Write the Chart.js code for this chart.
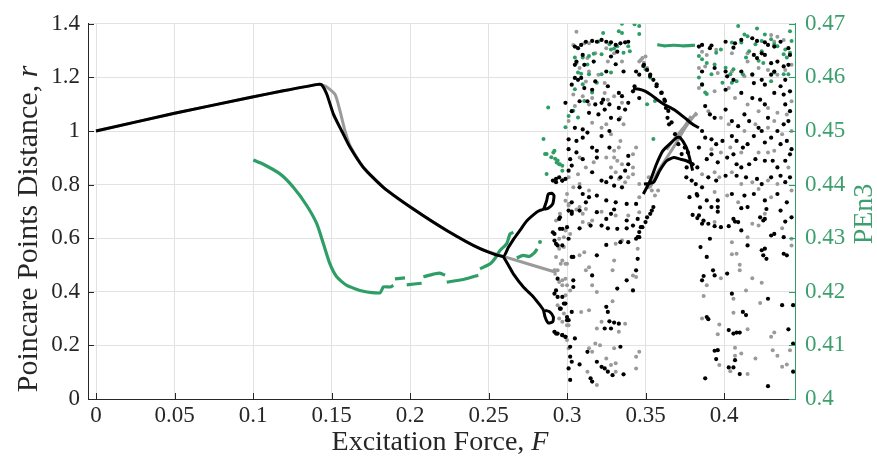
<!DOCTYPE html>
<html>
<head>
<meta charset="utf-8">
<script src="https://cdn.jsdelivr.net/npm/chart.js@4.4.1/dist/chart.umd.min.js"></script>
<style>
html, body { margin: 0; padding: 0; background: #fff; }
#wrap { width: 877px; height: 459px; }
</style>
</head>
<body>
<div id="wrap"><canvas id="poincare"></canvas></div>
<script>
// tick positions
var xTicks = [0, 0.05, 0.1, 0.15, 0.2, 0.25, 0.3, 0.35, 0.4];
var rTicks = [0, 0.2, 0.4, 0.6, 0.8, 1, 1.2, 1.4];
var penTicks = [0.4, 0.41, 0.42, 0.43, 0.44, 0.45, 0.46, 0.47];

// r of the period-1 / period-2 branch (black) -- null breaks the line
var blackLine = [[0,1.0],[0.05,1.066],[0.098,1.125],[0.1193,1.15],[0.1416,1.174],[0.1438,1.172],[0.147,1.137],[0.1512,1.063],[0.1565,1.0],[0.1618,0.939],[0.1703,0.864],[0.183,0.79],[0.2021,0.709],[0.2234,0.629],[0.2446,0.561],[0.2594,0.532],
  [0.2626,0.565],[0.2658,0.595],[0.27,0.629],[0.2743,0.664],[0.2807,0.697],[0.2828,0.704],[0.285,0.708],[0.287,0.740],[0.288,0.764],[0.2903,0.768],[0.2917,0.759],[0.2909,0.728],[0.288,0.712],[0.2855,0.708],
  null,
  [0.2594,0.532],[0.2626,0.500],[0.2658,0.467],[0.2722,0.418],[0.2786,0.381],[0.2828,0.350],[0.285,0.331],[0.286,0.306],[0.288,0.284],[0.2909,0.288],[0.2913,0.306],[0.289,0.325],[0.286,0.331],
  null,
  [0.342,1.158],[0.346,1.156],[0.350,1.148],[0.354,1.133],[0.358,1.115],[0.362,1.099],[0.368,1.080],[0.375,1.049],[0.380,1.025],[0.384,1.012],
  null,
  [0.3486,0.765],[0.353,0.815],[0.357,0.877],[0.361,0.926],[0.366,0.955],[0.370,0.976],[0.372,0.976],[0.376,0.939],[0.378,0.901],[0.380,0.852],
  null,
  [0.349,0.802],[0.355,0.808],[0.359,0.852],[0.3635,0.889],[0.368,0.901],[0.372,0.895],[0.376,0.889],[0.380,0.877]];

var grayLine = [[0,1.0],[0.05,1.066],[0.098,1.125],[0.1193,1.15],[0.1416,1.174],[0.146,1.168],[0.1522,1.137],[0.1554,1.075],[0.1586,1.0],[0.1618,0.945],[0.1703,0.864],[0.183,0.79],[0.2021,0.709],[0.2234,0.629],[0.2446,0.561],[0.2594,0.532],[0.2924,0.474],
  null, [0.2924,0.461],[0.2924,0.486],
  null, [0.353,0.79],[0.358,0.85],[0.3635,0.90],[0.369,0.95],[0.374,1.0],[0.378,1.035],[0.3826,1.069],
  null, [0.3635,0.93],[0.367,0.96],[0.371,0.99],[0.375,1.018],[0.379,1.056]];

// scattered Poincare points (black)
var blackDots = [
  [0.305,1.315],[0.307,1.309],[0.309,1.321],[0.312,1.333],[0.316,1.336],[0.319,1.333],[0.322,1.340],[0.325,1.333],[0.328,1.331],[0.331,1.321],[0.334,1.327],[0.337,1.331],[0.339,1.333],[0.332,1.296],[0.328,1.278],[0.310,1.284],
  [0.306,1.259],[0.305,1.247],[0.311,1.247],[0.317,1.259],[0.331,1.249],[0.325,1.222],[0.336,1.222],[0.344,1.222],[0.346,1.210],[0.342,1.148],[0.343,1.167],[0.305,1.198],[0.307,1.191],[0.309,1.198],[0.318,1.185],[0.303,1.173],
  [0.311,1.160],[0.316,1.154],[0.326,1.167],[0.333,1.142],[0.335,1.130],[0.339,1.105],[0.346,1.123],[0.299,1.105],[0.308,1.111],[0.313,1.111],[0.318,1.099],[0.322,1.105],[0.323,1.117],[0.327,1.099],[0.333,1.086],[0.337,1.080],
  [0.303,1.074],[0.314,1.068],[0.320,1.062],[0.324,1.080],[0.328,1.049],[0.333,1.043],[0.305,1.012],[0.310,1.006],[0.313,0.994],[0.322,0.981],[0.327,1.000],[0.301,0.969],[0.306,0.963],[0.310,0.975],[0.316,0.938],[0.319,0.926],
  [0.319,0.901],[0.327,0.938],[0.301,0.932],[0.306,0.920],[0.310,0.895],[0.339,0.907],[0.339,0.876],[0.337,0.852],[0.334,0.827],[0.328,0.827],[0.325,0.809],[0.330,0.796],[0.335,0.790],[0.301,0.852],[0.316,0.846],[0.322,0.815],
  [0.293,0.821],[0.295,0.827],[0.297,0.815],[0.308,0.790],[0.310,0.765],[0.314,0.753],[0.319,0.759],[0.303,0.734],[0.312,0.734],[0.325,0.741],[0.331,0.734],[0.338,0.728],[0.344,0.728],
  [0.384,1.315],[0.386,1.321],[0.391,1.309],[0.392,1.319],[0.401,1.333],[0.407,1.327],[0.406,1.311],[0.411,1.340],[0.418,1.346],[0.421,1.336],[0.426,1.331],[0.428,1.321],[0.432,1.315],[0.436,1.333],[0.441,1.309],[0.442,1.284],
  [0.419,1.284],[0.421,1.272],[0.424,1.290],[0.426,1.284],[0.430,1.253],[0.434,1.259],[0.438,1.241],[0.441,1.247],[0.386,1.222],[0.394,1.235],[0.401,1.222],[0.402,1.204],[0.406,1.191],[0.411,1.222],[0.418,1.210],[0.419,1.179],
  [0.424,1.191],[0.426,1.173],[0.430,1.210],[0.432,1.222],[0.436,1.167],[0.439,1.191],[0.442,1.148],[0.442,1.074],[0.386,1.173],[0.401,1.154],[0.411,1.142],[0.418,1.123],[0.423,1.117],[0.426,1.099],[0.432,1.142],[0.438,1.136],
  [0.439,1.099],[0.388,1.093],[0.391,1.062],[0.394,1.049],[0.401,1.080],[0.405,1.037],[0.409,1.018],[0.413,1.062],[0.416,1.037],[0.422,1.012],[0.428,1.049],[0.434,1.000],[0.438,1.025],[0.441,1.037],[0.386,1.000],[0.388,0.975],
  [0.392,0.969],[0.395,0.951],[0.399,0.963],[0.405,0.981],[0.408,0.963],[0.412,0.938],[0.415,0.951],[0.419,0.981],[0.424,1.000],[0.426,0.957],[0.430,0.975],[0.436,0.951],[0.440,0.963],[0.443,0.932],[0.375,0.938],[0.377,0.920],
  [0.384,0.938],[0.380,0.876],[0.383,0.864],[0.389,0.895],[0.392,0.913],[0.396,0.883],[0.402,0.901],[0.406,0.913],[0.408,0.876],[0.411,0.864],[0.416,0.876],[0.420,0.895],[0.426,0.889],[0.431,0.889],[0.434,0.864],[0.439,0.889],
  [0.442,0.913],[0.376,0.827],[0.382,0.802],[0.386,0.790],[0.390,0.827],[0.395,0.815],[0.401,0.833],[0.408,0.833],[0.414,0.827],[0.421,0.821],[0.424,0.802],[0.430,0.827],[0.436,0.833],[0.439,0.809],[0.442,0.827],[0.378,0.753],
  [0.383,0.759],[0.389,0.741],[0.396,0.741],[0.405,0.765],[0.413,0.759],[0.419,0.765],[0.426,0.741],[0.434,0.765],[0.440,0.734],
  [0.303,0.699],[0.308,0.703],[0.319,0.697],[0.325,0.672],[0.328,0.691],[0.330,0.707],[0.338,0.666],[0.345,0.672],[0.295,0.672],[0.297,0.635],[0.292,0.616],[0.301,0.598],[0.308,0.637],[0.315,0.647],[0.322,0.647],[0.326,0.637],
  [0.332,0.635],[0.338,0.637],[0.342,0.647],[0.347,0.641],[0.344,0.598],[0.346,0.604],[0.339,0.585],[0.334,0.585],[0.325,0.575],[0.319,0.536],[0.304,0.530],[0.294,0.573],[0.293,0.579],[0.316,0.461],[0.304,0.443],[0.304,0.418],
  [0.344,0.480],[0.338,0.443],[0.332,0.412],[0.342,0.405],[0.345,0.523],[0.292,0.393],[0.294,0.381],[0.298,0.356],[0.296,0.337],[0.303,0.325],[0.300,0.294],[0.325,0.344],[0.326,0.325],[0.327,0.290],[0.330,0.285],[0.333,0.281],
  [0.324,0.263],[0.328,0.263],[0.334,0.195],[0.292,0.251],[0.294,0.244],[0.297,0.238],[0.299,0.232],[0.305,0.226],[0.302,0.158],[0.303,0.139],[0.301,0.114],[0.302,0.071],[0.313,0.176],[0.319,0.139],[0.322,0.120],[0.324,0.114],
  [0.326,0.102],[0.329,0.089],[0.336,0.092],[0.315,0.077],[0.316,0.065],[0.308,0.129],
  [0.355,0.716],[0.354,0.703],[0.353,0.691],[0.351,0.678],[0.350,0.660],[0.348,0.641],[0.346,0.623],[0.345,0.604],
  [0.380,0.687],[0.383,0.675],[0.384,0.685],[0.386,0.654],[0.390,0.654],[0.394,0.645],[0.398,0.641],[0.403,0.645],[0.406,0.672],[0.407,0.662],[0.409,0.660],[0.411,0.629],[0.396,0.716],[0.396,0.699],[0.392,0.716],[0.411,0.712],
  [0.415,0.716],[0.423,0.678],[0.425,0.666],[0.427,0.709],[0.426,0.672],[0.436,0.703],[0.439,0.662],[0.443,0.678],[0.430,0.610],[0.432,0.616],[0.438,0.604],[0.391,0.598],[0.385,0.567],[0.389,0.530],[0.415,0.573],[0.424,0.555],
  [0.426,0.561],[0.425,0.536],[0.427,0.523],[0.438,0.542],[0.440,0.536],[0.393,0.480],[0.394,0.461],[0.386,0.443],[0.387,0.459],[0.402,0.468],[0.405,0.393],[0.428,0.374],[0.437,0.350],[0.444,0.350],[0.389,0.306],[0.390,0.298],
  [0.412,0.325],[0.414,0.313],[0.403,0.257],[0.406,0.244],[0.408,0.248],[0.410,0.248],[0.441,0.260],[0.394,0.180],[0.396,0.182],[0.395,0.149],[0.407,0.145],[0.403,0.118],[0.406,0.118],[0.410,0.093],[0.388,0.077],[0.428,0.048],
  [0.444,0.102],[0.444,0.207],
  [0.291,0.815],[0.293,0.809],[0.297,0.815],[0.299,0.821],[0.302,0.895],[0.303,0.871],[0.301,0.703],[0.303,0.691],[0.2955,0.678],[0.291,0.622],[0.2955,0.635],[0.300,0.641],[0.292,0.591],[0.297,0.573],[0.303,0.530],[0.294,0.449],
  [0.293,0.405],[0.297,0.381],[0.299,0.356],[0.2955,0.337],[0.300,0.306],[0.301,0.294],[0.293,0.244],[0.297,0.238],[0.299,0.232],[0.302,0.195],
  [0.349,1.247],[0.351,1.228],[0.353,1.210],[0.355,1.191],[0.357,1.167],[0.360,1.142],[0.362,1.117],[0.363,1.086],[0.364,1.049],[0.365,1.025],[0.3666,1.032],[0.3688,0.988],[0.3709,0.951],[0.3730,0.914],[0.3762,0.864],[0.3794,0.815],
  [0.3826,0.765],[0.3847,0.715],[0.3869,0.666],[0.3486,1.243],[0.3529,1.205],[0.3571,1.174],[0.3603,1.143],[0.3624,1.112],[0.3645,1.075]];

// scattered Poincare points (gray)
var grayDots = [
  [0.304,1.321],[0.311,1.327],[0.314,1.327],[0.325,1.309],[0.330,1.290],[0.318,1.290],[0.313,1.272],[0.326,1.259],[0.335,1.259],[0.308,1.235],[0.314,1.222],[0.320,1.210],[0.324,1.179],[0.312,1.185],[0.304,1.136],[0.310,1.130],
  [0.316,1.123],[0.326,1.117],[0.330,1.130],[0.324,1.142],[0.335,1.105],[0.334,1.049],[0.336,1.025],[0.301,1.037],[0.316,1.031],[0.325,1.025],[0.322,1.012],[0.328,0.988],[0.333,0.938],[0.330,0.926],[0.325,0.901],[0.330,0.901],
  [0.332,0.889],[0.328,0.864],[0.335,0.876],[0.342,0.913],[0.344,0.938],[0.342,0.864],[0.308,0.901],[0.312,0.864],[0.317,0.883],[0.307,0.839],[0.301,0.827],[0.339,0.827],[0.342,0.839],[0.346,0.802],[0.331,0.846],[0.333,0.821],
  [0.337,0.809],[0.314,0.778],[0.308,0.802],[0.304,0.790],[0.300,0.765],[0.301,0.728],[0.308,0.716],[0.346,0.753],[0.352,0.827],[0.350,1.278],[0.348,1.272],[0.346,1.259],[0.352,0.790],[0.354,0.778],[0.356,0.759],[0.358,0.778],
  [0.334,0.963],[0.306,1.370],[0.305,1.093],[0.314,1.099],[0.347,1.265],[0.349,1.255],[0.351,1.235],
  [0.386,1.296],[0.389,1.284],[0.395,1.303],[0.405,1.290],[0.415,1.290],[0.430,1.358],[0.434,1.352],[0.438,1.340],[0.432,1.333],[0.384,1.235],[0.388,1.241],[0.396,1.216],[0.405,1.222],[0.413,1.204],[0.415,1.259],[0.422,1.235],
  [0.428,1.228],[0.434,1.210],[0.439,1.228],[0.443,1.247],[0.384,1.160],[0.394,1.148],[0.403,1.160],[0.407,1.123],[0.415,1.099],[0.422,1.074],[0.428,1.086],[0.434,1.068],[0.440,1.062],[0.443,1.111],[0.382,1.062],[0.390,1.074],
  [0.398,1.049],[0.403,1.025],[0.413,1.000],[0.420,1.025],[0.428,1.012],[0.432,1.037],[0.437,0.988],[0.443,1.000],[0.392,0.932],[0.398,0.920],[0.404,0.938],[0.411,0.920],[0.422,0.920],[0.428,0.920],[0.432,0.926],[0.441,0.864],
  [0.386,0.839],[0.394,0.846],[0.397,0.827],[0.405,0.846],[0.411,0.802],[0.418,0.809],[0.428,0.815],[0.434,0.802],[0.394,0.772],[0.402,0.759],[0.409,0.734],[0.422,0.784],[0.430,0.753],[0.443,0.778],
  [0.306,0.707],[0.310,0.691],[0.312,0.709],[0.316,0.666],[0.322,0.699],[0.331,0.685],[0.339,0.685],[0.346,0.697],[0.310,0.660],[0.314,0.654],[0.295,0.598],[0.298,0.604],[0.295,0.561],[0.296,0.505],[0.299,0.505],[0.308,0.536],
  [0.311,0.548],[0.312,0.480],[0.314,0.492],[0.316,0.424],[0.319,0.399],[0.329,0.480],[0.330,0.517],[0.342,0.461],[0.345,0.561],[0.331,0.579],[0.335,0.592],[0.344,0.455],[0.294,0.480],[0.295,0.437],[0.297,0.424],[0.299,0.449],
  [0.299,0.387],[0.309,0.325],[0.314,0.331],[0.322,0.288],[0.319,0.263],[0.329,0.365],[0.337,0.281],[0.333,0.251],[0.318,0.207],[0.321,0.201],[0.314,0.189],[0.316,0.176],[0.330,0.189],[0.346,0.176],[0.344,0.158],[0.325,0.151],
  [0.328,0.127],[0.331,0.133],[0.331,0.102],[0.344,0.114],[0.319,0.052],[0.313,0.102],[0.301,0.189],[0.300,0.275],[0.297,0.288],[0.295,0.300],
  [0.387,0.662],[0.394,0.660],[0.418,0.654],[0.422,0.647],[0.426,0.691],[0.437,0.637],[0.415,0.604],[0.405,0.585],[0.408,0.542],[0.405,0.540],[0.410,0.501],[0.410,0.480],[0.398,0.451],[0.389,0.424],[0.418,0.451],[0.424,0.434],
  [0.414,0.405],[0.387,0.384],[0.406,0.374],[0.423,0.358],[0.386,0.300],[0.397,0.278],[0.396,0.242],[0.415,0.260],[0.406,0.322],[0.430,0.232],[0.432,0.248],[0.407,0.191],[0.411,0.170],[0.420,0.151],[0.407,0.161],[0.404,0.104],
  [0.397,0.127],[0.431,0.182],[0.434,0.161],[0.437,0.120],[0.440,0.129],[0.442,0.182],[0.415,0.093],[0.443,0.598],[0.443,0.573],
  [0.299,0.740],[0.301,0.722],[0.2955,0.691],[0.293,0.666],[0.299,0.629],[0.302,0.616],[0.298,0.567],[0.293,0.530],[0.297,0.517],[0.300,0.505],[0.292,0.480],[0.297,0.443],[0.300,0.424],[0.302,0.405],[0.294,0.350],[0.298,0.319],
  [0.301,0.275],[0.292,0.250],[0.300,0.220]];

// permutation entropy PEn3 (right axis)
var penLine = [[0.1002,0.4446],[0.1066,0.4438],[0.1172,0.4420],[0.1257,0.4395],[0.1342,0.4361],[0.1406,0.4327],[0.1448,0.4290],[0.1490,0.4252],[0.1533,0.4228],[0.1597,0.4212],[0.1703,0.4201],[0.1809,0.4198],[0.1830,0.4209],[0.1873,0.4209],[0.1894,0.4212],
  null, [0.1904,0.4224],[0.1968,0.4226],
  null, [0.1979,0.4213],[0.2074,0.4216],
  null, [0.2085,0.4228],[0.2150,0.4233],[0.2190,0.4235],[0.2223,0.4231],
  null, [0.2234,0.4218],[0.2340,0.4223],[0.2435,0.4231],
  null, [0.2446,0.4243],[0.2510,0.4252],[0.2541,0.4262],[0.2573,0.4277],[0.2616,0.4290],[0.2637,0.4308],[0.2658,0.4311],
  null, [0.268,0.4263],[0.272,0.4268],[0.276,0.4266],[0.279,0.4272],[0.281,0.4280],
  null, [0.3575,0.4661],[0.362,0.4659],[0.368,0.4660],[0.374,0.4659],[0.3815,0.4660]];

var penDots = [
  [0.2828,0.4293],[0.286,0.4457],[0.2913,0.4460],[0.2924,0.4448],[0.2934,0.4441],[0.2955,0.4438],[0.297,0.4435],[0.287,0.4420],
  [0.335,0.4700],[0.343,0.4699],[0.346,0.4696],[0.333,0.4686],[0.335,0.4683],[0.346,0.4681],[0.323,0.4683],[0.320,0.4667],[0.327,0.4662],[0.332,0.4658],[0.339,0.4658],[0.340,0.4649],[0.336,0.4646],[0.328,0.4652],[0.330,0.4654],[0.322,0.4643],
  [0.317,0.4644],[0.314,0.4640],[0.310,0.4637],[0.305,0.4637],[0.306,0.4627],[0.313,0.4624],[0.307,0.4609],[0.309,0.4607],[0.314,0.4606],[0.322,0.4606],[0.328,0.4609],[0.310,0.4587],[0.319,0.4590],[0.305,0.4578],[0.311,0.4556],[0.316,0.4572],
  [0.304,0.4538],[0.301,0.4528],[0.307,0.4525],[0.299,0.4507],[0.288,0.4544],[0.285,0.4485],[0.292,0.4463],[0.290,0.4451],[0.294,0.4445],[0.295,0.4438],[0.297,0.4426],[0.287,0.4457],[0.353,0.4600],[0.350,0.4615],[0.351,0.4550],[0.355,0.4485],
  [0.356,0.4556],[0.409,0.4696],[0.413,0.4680],[0.415,0.4677],[0.421,0.4691],[0.426,0.4680],[0.430,0.4671],[0.432,0.4662],[0.434,0.4658],[0.439,0.4652],[0.442,0.4686],[0.443,0.4668],[0.438,0.4643],[0.440,0.4637],[0.442,0.4646],[0.405,0.4665],
  [0.411,0.4665],[0.420,0.4662],[0.424,0.4649],[0.398,0.4652],[0.395,0.4646],[0.384,0.4640],[0.386,0.4634],[0.389,0.4627],[0.394,0.4624],[0.392,0.4606],[0.401,0.4618],[0.404,0.4606],[0.406,0.4615],[0.399,0.4590],[0.405,0.4590],[0.408,0.4593],
  [0.412,0.4606],[0.418,0.4606],[0.422,0.4631],[0.425,0.4627],[0.430,0.4593],[0.432,0.4609],[0.438,0.4606],[0.441,0.4606],[0.384,0.4600],[0.386,0.4587],[0.388,0.4572],[0.389,0.4569],[0.416,0.4649],[0.414,0.4637],[0.424,0.4668]];

var SERIF = "'Liberation Serif', 'Times New Roman', serif";
var GREEN = '#2f9e66';
var GREEN_TXT = '#3c9f6d';
var INK = '#262626';

function toPoints(list) {
  return list.map(function (p) { return p ? { x: p[0], y: p[1] } : { x: null, y: null }; });
}

function fmt(v) { return String(+v.toFixed(2)); }

function richWidth(ctx, parts, size) {
  var w = 0;
  parts.forEach(function (p) {
    ctx.font = (p[1] ? 'italic ' : '') + size + 'px ' + SERIF;
    w += ctx.measureText(p[0]).width;
  });
  return w;
}

// centred text made of plain and italic pieces
function drawRich(ctx, parts, size, cx, y, color) {
  ctx.fillStyle = color;
  ctx.textAlign = 'left';
  ctx.textBaseline = 'alphabetic';
  var x = cx - richWidth(ctx, parts, size) / 2;
  parts.forEach(function (p) {
    ctx.font = (p[1] ? 'italic ' : '') + size + 'px ' + SERIF;
    ctx.fillText(p[0], x, y);
    x += ctx.measureText(p[0]).width;
  });
}

var axisDecor = {
  id: 'axisDecor',
  afterDraw: function (chart) {
    var ctx = chart.ctx, a = chart.chartArea, s = chart.scales;
    ctx.save();
    ctx.lineWidth = 1;
    // inward tick marks
    ctx.strokeStyle = INK;
    ctx.beginPath();
    xTicks.forEach(function (v) {
      var px = Math.round(s.x.getPixelForValue(v)) + 0.5;
      ctx.moveTo(px, a.bottom); ctx.lineTo(px, a.bottom - 6);
    });
    rTicks.forEach(function (v) {
      var py = Math.round(s.y.getPixelForValue(v)) + 0.5;
      ctx.moveTo(a.left, py); ctx.lineTo(a.left + 6, py);
    });
    ctx.stroke();
    ctx.strokeStyle = GREEN;
    ctx.beginPath();
    penTicks.forEach(function (v) {
      var py = Math.round(s.y1.getPixelForValue(v)) + 0.5;
      ctx.moveTo(a.right, py); ctx.lineTo(a.right - 6, py);
    });
    ctx.stroke();

    // axis titles
    drawRich(ctx, [['Excitation Force, ', false], ['F', true]], 28, 440, 450, INK);

    ctx.save();
    ctx.translate(37, 229);
    ctx.rotate(-Math.PI / 2);
    drawRich(ctx, [['Poincare Points Distance, ', false], ['r', true]], 30, 0, 0, INK);
    ctx.restore();

    ctx.save();
    ctx.translate(872, 214);
    ctx.rotate(-Math.PI / 2);
    drawRich(ctx, [['PEn3', false]], 28, 0, 0, GREEN_TXT);
    ctx.restore();
    ctx.restore();
  }
};

new Chart(document.getElementById('poincare'), {
  type: 'scatter',
  data: {
    datasets: [
      { data: toPoints(blackLine), showLine: true, borderColor: '#000', borderWidth: 3, pointRadius: 0, tension: 0.2, yAxisID: 'y', order: 1 },
      { data: toPoints(blackDots), backgroundColor: '#000', borderWidth: 0, pointRadius: 2.1, yAxisID: 'y', order: 2 },
      { data: toPoints(penDots), backgroundColor: GREEN, borderWidth: 0, pointRadius: 2, yAxisID: 'y1', order: 3 },
      { data: toPoints(penLine), showLine: true, borderColor: GREEN, borderWidth: 3.2, pointRadius: 0, tension: 0.2, yAxisID: 'y1', order: 4 },
      { data: toPoints(grayDots), backgroundColor: '#9a9a9a', borderWidth: 0, pointRadius: 2, yAxisID: 'y', order: 5 },
      { data: toPoints(grayLine), showLine: true, borderColor: '#9a9a9a', borderWidth: 3, pointRadius: 0, tension: 0.2, yAxisID: 'y', order: 6 }
    ]
  },
  options: {
    responsive: true,
    maintainAspectRatio: false,
    animation: false,
    devicePixelRatio: 1,
    layout: { padding: { top: 23, left: 0, right: 0, bottom: 0 } },
    plugins: { legend: { display: false }, tooltip: { enabled: false } },
    scales: {
      x: {
        type: 'linear', min: -0.0051, max: 0.4452,
        afterBuildTicks: function (sc) { sc.ticks = xTicks.map(function (v) { return { value: v }; }); },
        afterFit: function (sc) { sc.height = 60; },
        grid: { color: '#e2e2e2', drawTicks: false },
        border: { color: INK, width: 1 },
        ticks: { padding: 3, color: INK, font: { family: SERIF, size: 23 }, maxRotation: 0, callback: fmt }
      },
      y: {
        type: 'linear', position: 'left', min: 0, max: 1.4,
        afterBuildTicks: function (sc) { sc.ticks = rTicks.map(function (v) { return { value: v }; }); },
        afterFit: function (sc) { sc.width = 88; },
        grid: { color: '#e2e2e2', drawTicks: false },
        border: { color: INK, width: 1 },
        ticks: { padding: 8, color: INK, font: { family: SERIF, size: 23 }, callback: fmt }
      },
      y1: {
        type: 'linear', position: 'right', min: 0.4, max: 0.47,
        afterBuildTicks: function (sc) { sc.ticks = penTicks.map(function (v) { return { value: v }; }); },
        afterFit: function (sc) { sc.width = 82; },
        grid: { display: false, drawTicks: false },
        border: { color: GREEN, width: 1 },
        ticks: { padding: 10, color: GREEN_TXT, font: { family: SERIF, size: 23 }, callback: fmt }
      }
    }
  },
  plugins: [axisDecor]
});
</script>
</body>
</html>
